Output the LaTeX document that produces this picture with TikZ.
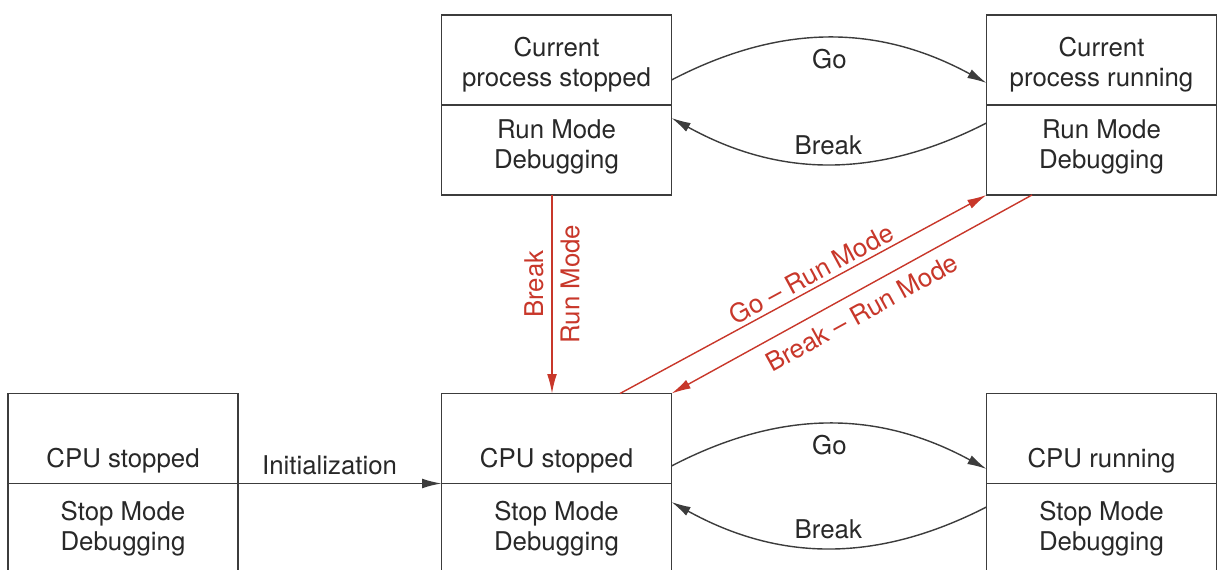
\documentclass[tikz,border=0pt]{standalone}
\usepackage{fontspec}
\setmainfont{TeX Gyre Heros}
\usetikzlibrary{arrows.meta,calc,positioning}
\definecolor{boxline}{RGB}{60,60,60}
\definecolor{boxtext}{RGB}{40,40,40}
\definecolor{runred}{RGB}{200,55,42}

\begin{document}
\begin{tikzpicture}[x=0.02cm,y=-0.02cm,
  every node/.style={font=\fontsize{14.7}{17.1}\selectfont,text=boxtext},
  state/.style={draw=boxline,line width=0.8pt,minimum width=4.6cm,minimum height=1.8cm,align=center,inner sep=0pt,outer sep=0pt},
  lowtext/.style={text height=1.25cm,text depth=0.1cm},
  uptext/.style={text height=1.17cm,text depth=0.11cm},
  modetext/.style={text height=0.97cm,text depth=0.23cm},
  link/.style={draw=boxline,line width=0.8pt,-{Latex[length=11pt,width=5.5pt]}},
  redlink/.style={draw=runred,line width=0.8pt,-{Latex[length=11pt,width=5.5pt]}},
  tag/.style={inner sep=2pt},
  redtag/.style={text=runred,inner sep=4.5pt}]

\useasboundingbox (0,0) rectangle (1223,570);
\clip (0,0) rectangle (1223,570);

\node[state,uptext] (cpstop) at (556.5,60) {Current\\process stopped};
\node[state,modetext,below=0pt of cpstop] (cpstopmode) {Run Mode\\Debugging};
\node[state,uptext] (cprun) at (1101.5,60) {Current\\process running};
\node[state,modetext,below=0pt of cprun] (cprunmode) {Run Mode\\Debugging};

\node[state,lowtext] (cpuinit) at (123,438.5) {CPU stopped};
\node[state,below=0pt of cpuinit] (cpuinitmode) {Stop Mode\\Debugging};
\node[state,lowtext] (cpustop) at (556.5,438.5) {CPU stopped};
\node[state,below=0pt of cpustop] (cpustopmode) {Stop Mode\\Debugging};
\node[state,lowtext] (cpurun) at (1101.5,438.5) {CPU running};
\node[state,below=0pt of cpurun] (cpurunmode) {Stop Mode\\Debugging};

\draw[link] ($(cpstop.east)+(0,20)$) to[bend left=28] node[tag,below=4pt]{Go} ($(cprun.west)+(0,23)$);
\draw[link] ($(cprunmode.west)+(0,-27)$) to[bend left=28] node[tag,above=3pt]{Break} ($(cpstopmode.east)+(0,-32)$);
\draw[link] ($(cpustop.east)+(0,27.5)$) to[bend left=28] node[tag,below=4pt]{Go} ($(cpurun.west)+(0,30.5)$);
\draw[link] ($(cpurunmode.west)+(0,-21.5)$) to[bend left=28] node[tag,above=3pt]{Break} ($(cpustopmode.east)+(0,-26.5)$);
\draw[link] (cpuinit.south east) -- node[tag,above=2.5pt,pos=0.45]{Initialization} (cpustop.south west);

\draw[redlink] ($(cpstopmode.south)+(-4.5,0)$) -- node[redtag,pos=0.45,rotate=90,anchor=south]{Break} node[redtag,pos=0.45,rotate=90,anchor=north]{Run Mode} ($(cpustop.north)+(-4.5,0)$);
\draw[redlink] ($(cpustop.north)+(63.5,0)$) -- node[redtag,inner sep=2pt,pos=0.54,sloped,above]{Go – Run Mode} (cprunmode.south west);
\draw[redlink] ($(cprunmode.south)+(-69.5,0)$) -- node[redtag,inner sep=2pt,pos=0.5,sloped,below=4pt]{Break – Run Mode} (cpustop.north east);

\end{tikzpicture}
\end{document}
